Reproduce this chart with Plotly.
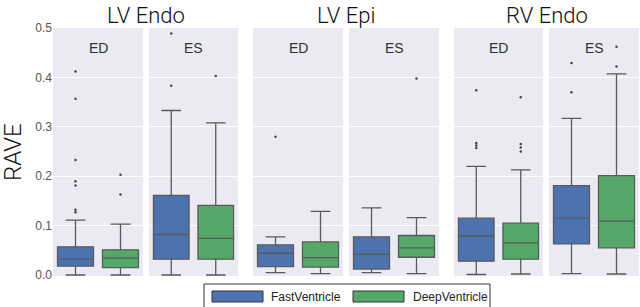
import plotly.graph_objects as go

W, H = 640, 307

# ---- data ----
groups = ["LV Endo", "LV Epi", "RV Endo"]
phases = ["ED", "ES"]
methods = ["FastVentricle", "DeepVentricle"]
colors = {"FastVentricle": "#4C72B0", "DeepVentricle": "#55A868"}

# panel order: LV Endo ED, LV Endo ES, LV Epi ED, LV Epi ES, RV Endo ED, RV Endo ES
fast_q1 = [0.018, 0.032, 0.017, 0.012, 0.028, 0.063]
fast_med = [0.032, 0.082, 0.044, 0.042, 0.079, 0.115]
fast_q3 = [0.057, 0.161, 0.061, 0.077, 0.115, 0.181]
fast_lo = [0.000, 0.000, 0.005, 0.005, 0.001, 0.003]
fast_hi = [0.111, 0.333, 0.077, 0.136, 0.220, 0.317]
fast_out = [
    [0.412, 0.357, 0.233, 0.190, 0.181, 0.132, 0.127],
    [0.489, 0.383],
    [0.280],
    [],
    [0.374, 0.267, 0.262, 0.257],
    [0.429, 0.370],
]

deep_q1 = [0.015, 0.032, 0.016, 0.036, 0.032, 0.055]
deep_med = [0.034, 0.074, 0.035, 0.055, 0.065, 0.109]
deep_q3 = [0.051, 0.141, 0.067, 0.080, 0.105, 0.201]
deep_lo = [0.000, 0.000, 0.003, 0.003, 0.002, 0.002]
deep_hi = [0.103, 0.308, 0.129, 0.116, 0.213, 0.407]
deep_out = [
    [0.203, 0.163],
    [0.403],
    [],
    [0.398],
    [0.360, 0.265, 0.258, 0.250],
    [0.462, 0.422],
]

yticks = [0.0, 0.1, 0.2, 0.3, 0.4, 0.5]

stats = {
    "FastVentricle": (fast_q1, fast_med, fast_q3, fast_lo, fast_hi, fast_out),
    "DeepVentricle": (deep_q1, deep_med, deep_q3, deep_lo, deep_hi, deep_out),
}

# ---- layout geometry (pixels) ----
panel_px = [(53, 143), (149, 238), (253, 343), (349, 439), (454, 543), (549, 639)]
top_px, bot_px = 28, 276
ydom = [(H - bot_px) / H, (H - top_px) / H]

FONT = "Liberation Sans, Arial, sans-serif"
TFONT = "Roboto, Liberation Sans, sans-serif"
LINE = "#5a5a5a"

fig = go.Figure()
layout = dict(
    width=W, height=H,
    margin=dict(l=0, r=0, t=0, b=0),
    paper_bgcolor="white", plot_bgcolor="#EAEAF2",
    showlegend=False, boxmode="overlay",
    font=dict(family=FONT, color="#222"),
)
annotations = []
shapes = []

for i in range(6):
    ax = "" if i == 0 else str(i + 1)
    for j, m in enumerate(methods):
        q1, med, q3, lo, hi, out = stats[m]
        fig.add_trace(go.Box(
            x=[m], q1=[q1[i]], median=[med[i]], q3=[q3[i]],
            lowerfence=[lo[i]], upperfence=[hi[i]],
            width=0.8, whiskerwidth=0.55,
            fillcolor=colors[m], line=dict(color=LINE, width=1.3),
            name=m, xaxis="x" + ax, yaxis="y" + ax, boxpoints=False,
            hoverinfo="skip",
        ))
        if out[i]:
            fig.add_trace(go.Scatter(
                x=[m] * len(out[i]), y=out[i], mode="markers",
                marker=dict(color="#444", size=2.5),
                xaxis="x" + ax, yaxis="y" + ax, hoverinfo="skip",
            ))
    x0, x1 = panel_px[i]
    layout["xaxis" + ax] = dict(
        domain=[x0 / W, x1 / W], type="category", categoryorder="array",
        categoryarray=methods, range=[-0.5, 1.5], showticklabels=False,
        showgrid=False, zeroline=False, showline=False, ticks="",
        anchor="y" + ax, fixedrange=True,
    )
    layout["yaxis" + ax] = dict(
        domain=ydom, range=[-0.002, 0.5], tickvals=yticks,
        ticktext=[f"{v:.1f}" for v in yticks],
        showticklabels=(i == 0), gridcolor="white", gridwidth=1,
        zeroline=False, showline=False, ticks="", anchor="x" + ax,
        tickfont=dict(size=12, color="#555"), automargin=False,
    )
    annotations.append(dict(
        x=0.5, y=0.46, xref="x" + ax + " domain" if ax else "x domain",
        yref="y" + ax, text=phases[i % 2], showarrow=False,
        font=dict(size=14, color="#333"), xanchor="center", yanchor="middle",
    ))

# group titles
for g in range(3):
    xa = (panel_px[2 * g][0] + panel_px[2 * g + 1][1]) / 2 / W
    annotations.append(dict(
        x=xa, y=(H - 15) / H, xref="paper", yref="paper", text=groups[g],
        showarrow=False, font=dict(size=22, color="#111", family=TFONT, weight=300),
        xanchor="center", yanchor="middle",
    ))

# y axis title
annotations.append(dict(
    x=13 / W, y=(H - 152) / H, xref="paper", yref="paper", text="RAVE",
    textangle=-90, showarrow=False,
    font=dict(size=24, color="#111", family=TFONT, weight=300),
    xanchor="center", yanchor="middle",
))

# legend (drawn)
shapes.append(dict(type="rect", xref="paper", yref="paper",
                   x0=204 / W, x1=490 / W, y0=-0.05, y1=(H - 284) / H,
                   line=dict(color="#333", width=1), fillcolor="white"))
leg = [(methods[0], 212, 263, 269), (methods[1], 353, 404, 411)]
for m, sx0, sx1, tx in leg:
    shapes.append(dict(type="rect", xref="paper", yref="paper",
                       x0=sx0 / W, x1=sx1 / W, y0=(H - 302) / H, y1=(H - 291) / H,
                       line=dict(color="#333", width=1), fillcolor=colors[m]))
    annotations.append(dict(
        x=tx / W, y=(H - 296.5) / H, xref="paper", yref="paper", text=m,
        showarrow=False, font=dict(size=12, color="#222"),
        xanchor="left", yanchor="middle",
    ))

layout["annotations"] = annotations
layout["shapes"] = shapes
fig.update_layout(**layout)
fig.write_html(
    "out.html",
    config={"displayModeBar": False},
    post_script="document.body.style.margin='0';document.body.style.overflow='hidden';",
)
